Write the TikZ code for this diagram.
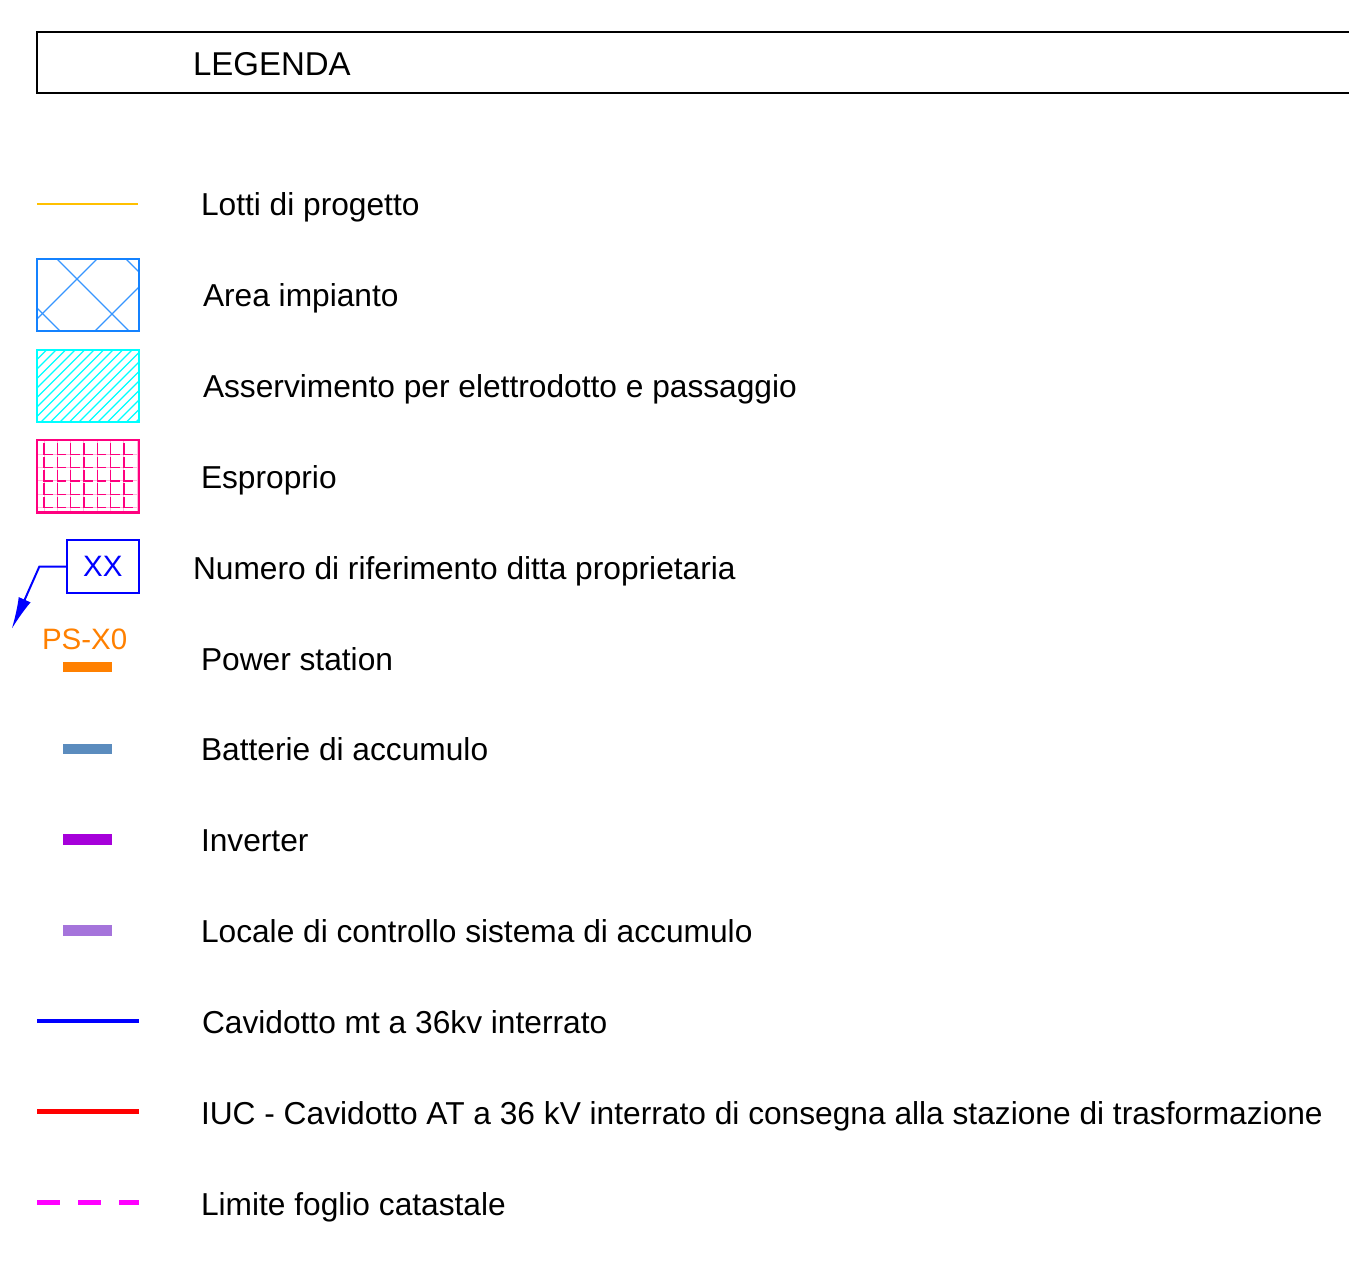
\documentclass[tikz,border=0pt]{standalone}
\usepackage{fontspec}
\setmainfont{Liberation Sans}
\usetikzlibrary{arrows.meta, positioning}

\definecolor{lotti}{RGB}{255,192,0}
\definecolor{areablu}{RGB}{20,130,255}
\definecolor{ciano}{RGB}{0,255,255}
\definecolor{rosa}{RGB}{255,0,127}
\definecolor{rosachiaro}{RGB}{255,185,220}
\definecolor{blu}{RGB}{0,0,255}
\definecolor{arancio}{RGB}{255,128,0}
\definecolor{batteria}{RGB}{91,140,190}
\definecolor{inverter}{RGB}{166,0,218}
\definecolor{locale}{RGB}{165,116,219}
\definecolor{rosso}{RGB}{255,0,0}
\definecolor{limite}{RGB}{255,0,255}

\begin{document}
\begin{tikzpicture}[x=1pt,y=-1pt,every node/.style={outer sep=0pt,inner sep=0pt}]
\tikzstyle{voce}=[anchor=base west,font=\fontsize{31.7}{36}\selectfont]
\tikzstyle{sigla}=[font=\fontsize{29.5}{34}\selectfont]
\tikzstyle{barra}=[draw=none,minimum width=48.4pt,minimum height=10.5pt]

\clip (0,0) rectangle (1349,1272);

% intestazione
\draw [line width=2pt] (37,32) rectangle (1380,93);
\node (legenda) [anchor=base west,font=\fontsize{33}{38}\selectfont] at (193,75.5) {LEGENDA};

% testi
\node (t1) [voce] at (201,215.5) {Lotti di progetto};
\node (t2) [voce] at (203,306.4) {Area impianto};
\node (t3) [voce] at (203,397.3) {Asservimento per elettrodotto e passaggio};
\node (t4) [voce] at (201,488.2) {Esproprio};
\node (t5) [voce] at (193,579.1) {Numero di riferimento ditta proprietaria};
\node (t6) [voce] at (201,670) {Power station};
\node (t7) [voce] at (201,760.9) {Batterie di accumulo};
\node (t8) [voce] at (201,851.8) {Inverter};
\node (t9) [voce] at (201,942.7) {Locale di controllo sistema di accumulo};
\node (t10) [voce] at (202,1033.6) {Cavidotto mt a 36kv interrato};
\node (t11) [voce] at (201,1124.5) {IUC - Cavidotto AT a 36 kV interrato di consegna alla stazione di trasformazione};
\node (t12) [voce] at (201,1215.4) {Limite foglio catastale};

% lotti
\draw [lotti, line width=2.2pt] (37,204) -- (138,204);

% area impianto
\begin{scope}
\clip (37,259) rectangle (139,331);
\foreach \c in {-271,-202,-133}
  \draw [areablu!85, line width=1.4pt] (0,-\c) -- (200,200-\c);
\foreach \c in {356,426}
  \draw [areablu!85, line width=1.4pt] (0,\c) -- (200,\c-200);
\end{scope}
\draw [areablu, line width=2.2pt] (37,259) rectangle (139,331);

% asservimento
\begin{scope}
\clip (37,350) rectangle (139,422);
\foreach \k in {0,...,18}
  \draw [ciano, line width=1.1pt] (0,387+9.5*\k) -- (200,187+9.5*\k);
\end{scope}
\draw [ciano, line width=2.2pt] (37,350) rectangle (139,422);

% esproprio
\begin{scope}
\clip (37,440) rectangle (139,513);
\foreach \i in {0,...,7}
  \draw [rosachiaro, line width=1pt] (44+13.33*\i,438) -- (44+13.33*\i,515);
\foreach \j in {-1,...,4}
  \draw [rosachiaro, line width=1pt] (35,454.3+13.33*\j) -- (141,454.3+13.33*\j);
\foreach \i in {0,...,6}
  \foreach \j in {0,...,4}
    \draw [rosa, line width=1.2pt] (44+13.33*\i,443.3+13.33*\j) |- (53+13.33*\i,454.3+13.33*\j);
\end{scope}
\draw [rosa, line width=2.6pt] (37,440) rectangle (139,512.5);

% numero ditta
\node (xx) [draw=blu, line width=2pt, minimum width=72.3pt, minimum height=53.3pt, text=blu, sigla] at (102.8,566.7) {XX};
\coordinate (gomito) at (39.3,566.7);
\coordinate (punta) at (11.7,629);
\draw [blu, line width=2pt, -{Latex[length=32pt,width=13pt]}] (xx.west) -- (gomito) -- (punta);

% power station
\node (ps) [anchor=base, text=arancio, sigla] at (84.7,649.3) {PS-X0};
\node (psbarra) [barra, fill=arancio, minimum height=9.4pt] at (87.5,667) {};

% batterie, inverter, locale
\node (batt) [barra, fill=batteria] at (87.5,748.8) {};
\node (inv) [barra, fill=inverter] at (87.5,839.5) {};
\node (loc) [barra, fill=locale] at (87.5,930.3) {};

% cavidotti
\draw [blu, line width=4pt] (37,1021) -- (139,1021);
\draw [rosso, line width=4.6pt] (37,1111.3) -- (139,1111.3);
\draw [limite, line width=5pt, dash pattern=on 23pt off 18pt] (37,1202.5) -- (139,1202.5);

\end{tikzpicture}
\end{document}
